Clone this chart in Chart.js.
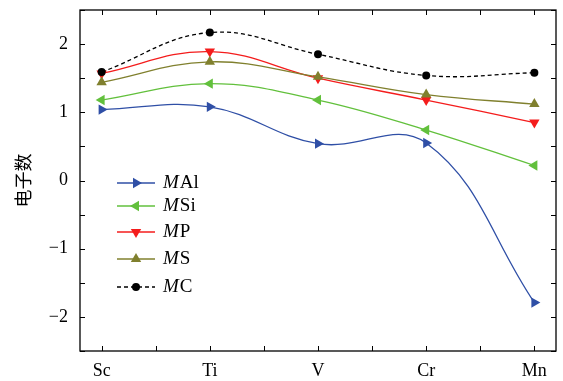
<!DOCTYPE html>
<html><head><meta charset="utf-8">
<script src="https://cdn.jsdelivr.net/npm/chart.js@4/dist/chart.umd.min.js"></script>
<style>html,body{margin:0;padding:0;background:#fff}#wrap{width:563px;height:381px}</style>
</head><body><div id="wrap"><canvas id="c" width="563" height="381"></canvas></div>
<script>
const categories = ['Sc', 'Ti', 'V', 'Cr', 'Mn'];
const yTickValues = [-2, -1, 0, 1, 2];
const MAl = [1.04, 1.08, 0.54, 0.55, -1.79];
const MSi = [1.18, 1.42, 1.18, 0.74, 0.22];
const MP  = [1.57, 1.89, 1.50, 1.18, 0.85];
const MS  = [1.44, 1.74, 1.52, 1.26, 1.12];
const MC  = [1.59, 2.17, 1.85, 1.54, 1.58];
const seriesNames = [['M','Al'], ['M','Si'], ['M','P'], ['M','S'], ['M','C']];

const SERIF = '"Liberation Serif", "DejaVu Serif", serif';
const toPts = arr => arr.map((v, i) => ({x: i, y: v}));

const styles = [
  {color:'#2f4fa6', style:'triangle', rot:90,  r:6, dash:[]},
  {color:'#62c03c', style:'triangle', rot:270, r:6, dash:[]},
  {color:'#f41c1c', style:'triangle', rot:180, r:6, dash:[]},
  {color:'#80802e', style:'triangle', rot:0,   r:6, dash:[]},
  {color:'#000000', style:'circle',   rot:0,   r:4, dash:[4,3]}
];
const dataArr = [MAl, MSi, MP, MS, MC];

const datasets = dataArr.map((d, k) => ({
  label: seriesNames[k].join(''),
  data: toPts(d),
  borderColor: styles[k].color,
  backgroundColor: styles[k].color,
  pointBackgroundColor: styles[k].color,
  pointBorderColor: styles[k].color,
  borderWidth: 1.3,
  borderDash: styles[k].dash,
  pointStyle: styles[k].style,
  pointRotation: styles[k].rot,
  pointRadius: styles[k].r,
  pointBorderWidth: 0,
  tension: 0.4,
  order: k === 4 ? 0 : 5 - k
}));

const frame = {
  id: 'frame',
  afterDraw(chart) {
    const {ctx, chartArea: a, scales: {x, y}} = chart;
    ctx.save();
    ctx.strokeStyle = '#000';
    ctx.lineWidth = 1.3;
    ctx.strokeRect(a.left, a.top, a.right - a.left, a.bottom - a.top);
    ctx.lineWidth = 1;
    const L = 5;
    ctx.beginPath();
    for (let v = 0; v <= 4.001; v += 0.5) {
      const px = Math.round(x.getPixelForValue(v)) + 0.5;
      ctx.moveTo(px, a.bottom); ctx.lineTo(px, a.bottom - L);
      ctx.moveTo(px, a.top); ctx.lineTo(px, a.top + L);
    }
    for (let v = -2.5; v <= 2.501; v += 0.5) {
      const py = Math.round(y.getPixelForValue(v)) + 0.5;
      ctx.moveTo(a.left, py); ctx.lineTo(a.left + L, py);
      ctx.moveTo(a.right, py); ctx.lineTo(a.right - L, py);
    }
    ctx.stroke();

    // legend
    const x0 = 117, x1 = 155, xm = 136, tx = 163;
    const rows = [183, 206, 232, 259, 287];
    ctx.textBaseline = 'middle';
    styles.forEach((s, k) => {
      const yy = rows[k];
      ctx.strokeStyle = s.color;
      ctx.lineWidth = 1.3;
      ctx.setLineDash(s.dash);
      ctx.beginPath(); ctx.moveTo(x0, yy); ctx.lineTo(x1, yy); ctx.stroke();
      ctx.setLineDash([]);
      ctx.fillStyle = s.color;
      Chart.helpers.drawPoint(ctx, {pointStyle: s.style, rotation: s.rot, radius: s.r, borderWidth: 0}, xm, yy);
      ctx.fillStyle = '#000';
      ctx.font = 'italic 19px ' + SERIF;
      ctx.fillText(seriesNames[k][0], tx, yy);
      const w = ctx.measureText(seriesNames[k][0]).width;
      ctx.font = '19px ' + SERIF;
      ctx.fillText(seriesNames[k][1], tx + w + 1, yy);
    });
    ctx.restore();
  }
};

new Chart(document.getElementById('c'), {
  type: 'line',
  data: {datasets},
  plugins: [frame],
  options: {
    responsive: false,
    animation: false,
    layout: {padding: {top: 10, right: 7, left: 0, bottom: 0}},
    plugins: {legend: {display: false}, tooltip: {enabled: false}},
    scales: {
      x: {
        type: 'linear', min: -0.2, max: 4.2,
        afterBuildTicks: s => { s.ticks = categories.map((c, i) => ({value: i})); },
        afterFit: s => { s.height = 30; s.paddingLeft = 0; s.paddingRight = 0; },
        grid: {display: false, drawTicks: false},
        border: {display: false},
        ticks: {
          callback: v => categories[v] ?? '',
          color: '#000', padding: 9, maxRotation: 0,
          font: {family: SERIF, size: 18}
        }
      },
      y: {
        min: -2.5, max: 2.5,
        afterBuildTicks: s => { s.ticks = yTickValues.map(v => ({value: v})); },
        afterFit: s => { s.width = 80; s.paddingTop = 0; s.paddingBottom = 0; },
        grid: {display: false, drawTicks: false},
        border: {display: false},
        title: {display: true, text: '电子数', color: '#000', padding: {top: 12, bottom: 0},
          font: {family: '"Noto Sans CJK SC", sans-serif', size: 18}},
        ticks: {
          callback: v => (v < 0 ? '\u2212' + Math.abs(v) : String(v)),
          color: '#000', padding: 12,
          font: {family: SERIF, size: 18}
        }
      }
    }
  }
});
</script></body></html>
